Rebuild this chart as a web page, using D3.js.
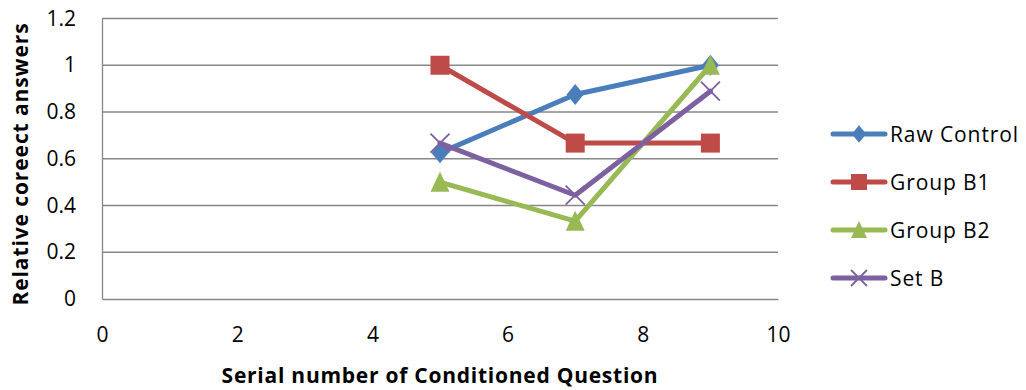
<!DOCTYPE html>
<html><head><meta charset="utf-8">
<script src="https://cdn.jsdelivr.net/npm/d3@7"></script>
<style>body{margin:0;background:#fff;} text{font-family:"Open Sans","Liberation Sans",sans-serif;}</style>
</head><body>
<svg id="c" width="1026" height="390"></svg>
<script>
const seriesNames = ["Raw Control","Group B1","Group B2","Set B"];
const xValues = [5,7,9];
const rawControl = [0.625,0.875,1.0];
const groupB1 = [1.0,0.667,0.667];
const groupB2 = [0.5,0.333,1.0];
const setB = [0.667,0.444,0.889];
const xTicks = [0,2,4,6,8,10];
const yTicks = [0,0.2,0.4,0.6,0.8,1,1.2];
const colors = ["#4A7EBB","#BE4B48","#98B954","#7D60A0"];
const markers = ["diamond","square","triangle","x"];
const allSeries = [rawControl,groupB1,groupB2,setB];

const svg = d3.select("#c");
const x = d3.scaleLinear().domain([0,10]).range([102,778]);
const y = d3.scaleLinear().domain([0,1.2]).range([299,18.5]);

// gridlines
svg.append("g").selectAll("line").data(yTicks.filter(d=>d>0)).join("line")
  .attr("x1",x(0)).attr("x2",x(10)).attr("y1",d=>y(d)).attr("y2",d=>y(d))
  .attr("stroke","#878787").attr("stroke-width",1.3);
// axes
const yAxis = svg.append("g").attr("transform",`translate(${x(0)},0)`)
  .call(d3.axisLeft(y).tickValues(yTicks).tickSize(0).tickPadding(26).tickFormat(d=>d3.format("~g")(d)));
const xAxis = svg.append("g").attr("transform",`translate(0,${y(0)})`)
  .call(d3.axisBottom(x).tickValues(xTicks).tickSize(0).tickPadding(28));
[yAxis,xAxis].forEach(a=>{
  a.select(".domain").attr("stroke","#878787").attr("stroke-width",1.3);
  a.selectAll("text").attr("font-size",21).attr("fill","#000")
   .style("font-family",'"Open Sans","Liberation Sans",sans-serif');
});

svg.append("text").attr("x",440).attr("y",383).attr("text-anchor","middle")
  .attr("font-size",21).attr("font-weight","bold").attr("letter-spacing",0.75).text("Serial number of Conditioned Question");
svg.append("text").attr("transform","translate(28,164) rotate(-90)").attr("text-anchor","middle")
  .attr("font-size",21).attr("font-weight","bold").attr("letter-spacing",0.9).text("Relative coreect answers");

function drawMarker(g, type, cx, cy, color, s){
  if(type==="diamond"){
    const w=s*0.45, h=s*0.55;
    g.append("path").attr("d",`M${cx},${cy-h}L${cx+w},${cy}L${cx},${cy+h}L${cx-w},${cy}Z`).attr("fill",color);
  } else if(type==="square"){
    g.append("rect").attr("x",cx-s/2).attr("y",cy-s/2).attr("width",s).attr("height",s).attr("fill",color);
  } else if(type==="triangle"){
    const h=s;
    g.append("path").attr("d",`M${cx},${cy-h/2-1}L${cx+s/2},${cy+h/2}L${cx-s/2},${cy+h/2}Z`).attr("fill",color);
  } else {
    const r=s/2;
    g.append("path").attr("d",`M${cx-r},${cy-r}L${cx+r},${cy+r}M${cx-r},${cy+r}L${cx+r},${cy-r}`).attr("stroke",color).attr("stroke-width",1.8).attr("fill","none");
  }
}

const line = d3.line().x((d,i)=>x(xValues[i])).y(d=>y(d));
allSeries.forEach((vals,k)=>{
  const g = svg.append("g");
  g.append("path").datum(vals).attr("d",line).attr("fill","none").attr("stroke",colors[k]).attr("stroke-width",5).attr("stroke-linejoin","round").attr("stroke-linecap","round");
  vals.forEach((v,i)=>drawMarker(g, markers[k], x(xValues[i]), y(v), colors[k], 19));
});

// legend
const legendY = d3.scaleLinear().domain([0,3]).range([134,278]);
seriesNames.forEach((n,k)=>{
  const g = svg.append("g");
  const ly = legendY(k);
  g.append("line").attr("x1",833).attr("x2",885).attr("y1",ly).attr("y2",ly).attr("stroke",colors[k]).attr("stroke-width",5).attr("stroke-linecap","round");
  drawMarker(g, markers[k], 859, ly, colors[k], 16);
  g.append("text").attr("x",890).attr("y",ly+7.5).attr("font-size",21).attr("letter-spacing",0.9).text(n);
});
</script>
</body></html>
